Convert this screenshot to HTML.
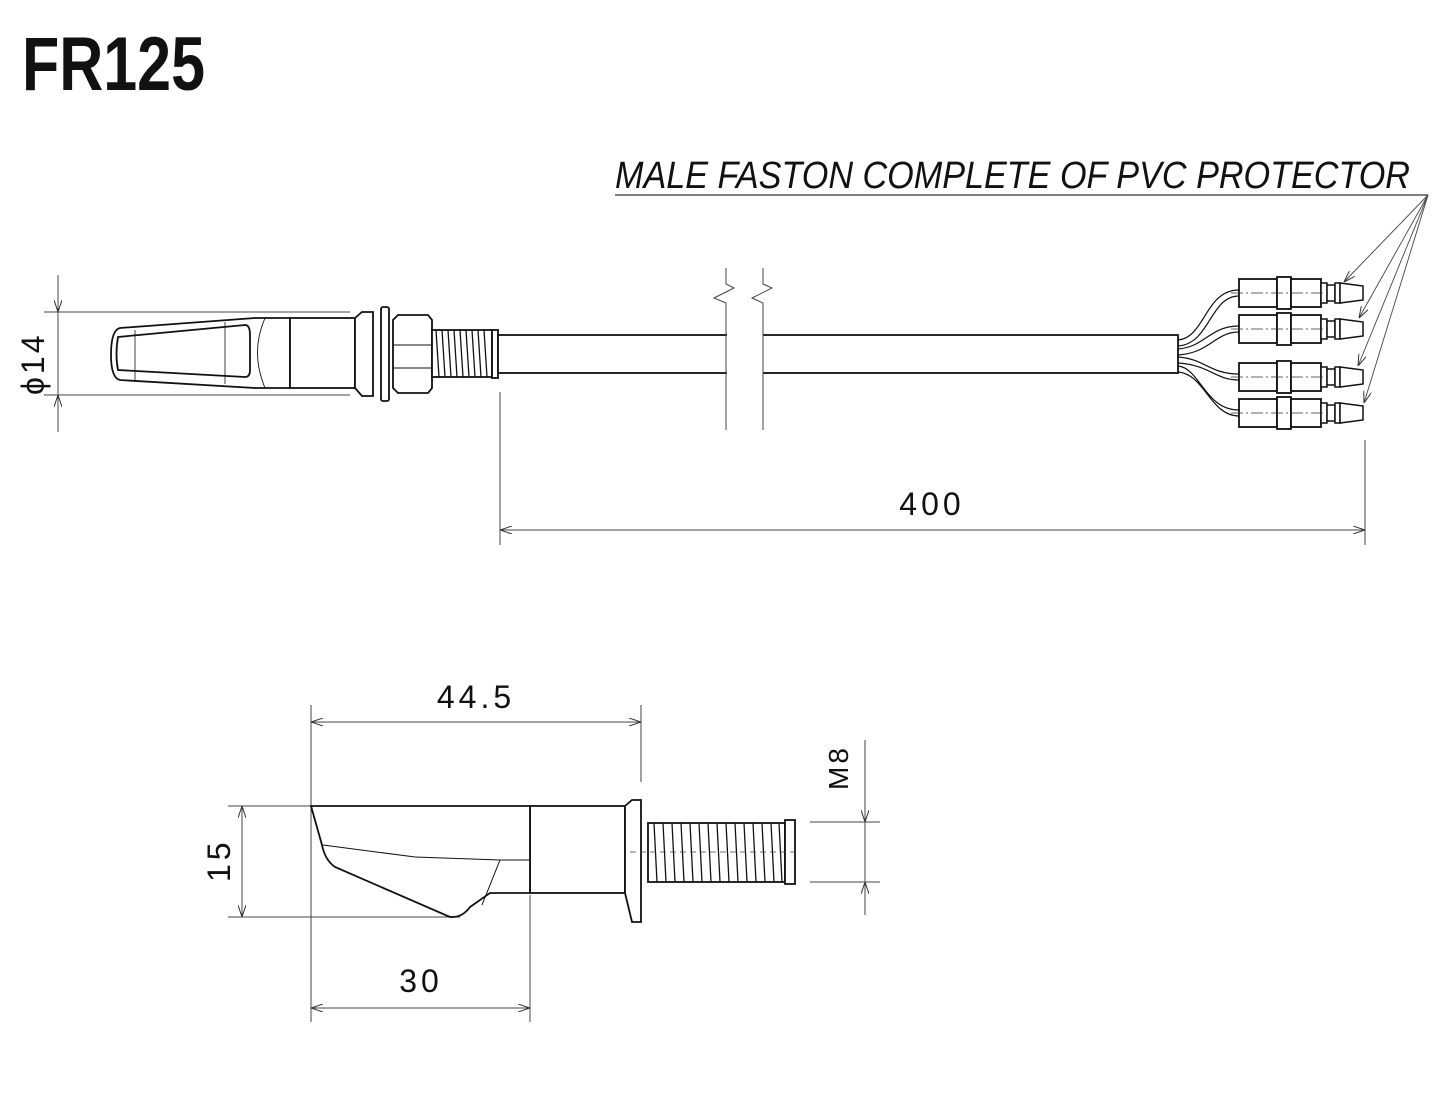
<!DOCTYPE html>
<html><head><meta charset="utf-8"><style>
html,body{margin:0;padding:0;background:#fff;width:1445px;height:1094px;overflow:hidden}
svg{display:block}
text{font-family:"Liberation Sans",sans-serif;fill:#111}
</style></head><body>
<svg width="1445" height="1094" viewBox="0 0 1445 1094" xmlns="http://www.w3.org/2000/svg">
<defs>
<marker id="ar" viewBox="0 0 12 8" refX="12" refY="4" markerWidth="12" markerHeight="8" orient="auto-start-reverse" markerUnits="userSpaceOnUse">
<path d="M0,0 L12,4 L0,8" fill="none" stroke="#333" stroke-width="1"/></marker>
<g id="fast">
<rect x="0" y="-14" width="38" height="28" fill="#fff" stroke="#111" stroke-width="1.8"/>
<rect x="38" y="-16" width="14" height="32" fill="#fff" stroke="#111" stroke-width="1.8"/>
<rect x="52" y="-14" width="30" height="28" fill="#fff" stroke="#111" stroke-width="1.8"/>
<rect x="82" y="-10" width="6" height="20" fill="#fff" stroke="#111" stroke-width="1.5"/>
<rect x="88" y="-8" width="8" height="16" fill="#fff" stroke="#111" stroke-width="1.5"/>
<rect x="96" y="-10" width="5" height="20" fill="#fff" stroke="#111" stroke-width="1.5"/>
<path d="M101,-10 L124,-7 L124,7 L101,10Z" fill="#fff" stroke="#111" stroke-width="1.5"/>
<line x1="-8" y1="0" x2="90" y2="0" stroke="#333" stroke-width="0.8" stroke-dasharray="12,3,2,3"/>
</g>
</defs>

<text x="22" y="90" font-size="76" font-weight="bold" textLength="183" lengthAdjust="spacingAndGlyphs" style="font-family:'Liberation Sans Narrow','Liberation Sans',sans-serif">FR125</text>

<text x="615" y="188" font-size="38" font-style="italic" textLength="795" lengthAdjust="spacingAndGlyphs" style="font-family:'Liberation Sans Narrow','Liberation Sans',sans-serif">MALE FASTON COMPLETE OF PVC PROTECTOR</text>
<line x1="615" y1="195" x2="1428" y2="195" stroke="#333" stroke-width="1.2"/>
<g stroke="#444" stroke-width="0.9" fill="none">
<line x1="1428" y1="195" x2="1344" y2="282" marker-end="url(#ar)"/>
<line x1="1428" y1="195" x2="1359" y2="318" marker-end="url(#ar)"/>
<line x1="1428" y1="195" x2="1358" y2="366" marker-end="url(#ar)"/>
<line x1="1428" y1="195" x2="1364" y2="403" marker-end="url(#ar)"/>
</g>

<!-- top view dims -->
<g stroke="#444" stroke-width="1" fill="none">
<line x1="58" y1="275" x2="58" y2="432"/>
<line x1="58" y1="278" x2="58" y2="312" marker-end="url(#ar)"/>
<line x1="58" y1="428" x2="58" y2="395" marker-end="url(#ar)"/>
<line x1="44" y1="312" x2="350" y2="312"/>
<line x1="44" y1="395" x2="350" y2="395"/>
<line x1="500" y1="392" x2="500" y2="545"/>
<line x1="1365" y1="440" x2="1365" y2="545"/>
<line x1="500" y1="530" x2="1365" y2="530" marker-start="url(#ar)" marker-end="url(#ar)"/>
</g>
<text x="0" y="0" font-size="32" letter-spacing="3" transform="translate(44,395) rotate(-90)">&#981;14</text>
<text x="932" y="515" font-size="32" letter-spacing="4" text-anchor="middle">400</text>

<!-- top lamp -->
<g stroke="#111" stroke-width="1.8" fill="#fff">
<path d="M120,328 L255,318 L290,318 L290,388 L255,388 L120,380 Q111,378 111,355 Q111,330 120,328Z"/>
<path d="M118,337 L245,325 Q250,325 250,335 L250,370 Q250,377 245,377 L118,370 Q115,355 118,337Z"/>
<line x1="135" y1="330" x2="135" y2="381" stroke-width="0.8"/>
<line x1="225" y1="322" x2="225" y2="384" stroke-width="0.8"/>
<path d="M265,318 Q250,352 265,388" fill="none" stroke-width="0.9"/>
<rect x="290" y="318" width="65" height="70"/>
<path d="M355,318 L362,312 L373,312 L373,396 L362,396 L355,388Z"/>
<rect x="381" y="307" width="8" height="94" rx="2"/>
<path d="M393,320 L398,315 L428,315 L432,320 L432,388 L428,393 L398,393 L393,388Z"/>
<line x1="393" y1="345" x2="432" y2="345" stroke-width="1"/>
<line x1="393" y1="368" x2="432" y2="368" stroke-width="1"/>
<rect x="432" y="330" width="60" height="47" fill="#fff"/>
<rect x="492" y="330" width="6" height="48"/>
<rect x="498" y="335" width="680" height="38"/>
</g>
<g stroke="#111" stroke-width="1.3">
<path d="M436,330 l3,47 M442,330 l3,47 M448,330 l3,47 M454,330 l3,47 M460,330 l3,47 M466,330 l3,47 M472,330 l3,47 M478,330 l3,47 M484,330 l3,47"/>
</g>
<!-- cable break -->
<rect x="727" y="268" width="36" height="165" fill="#fff"/>
<g stroke="#444" stroke-width="1" fill="none">
<path d="M726,430 L726,303 L714,298 L734,288 L726,284 L726,268"/>
<path d="M763,430 L763,303 L752,298 L772,288 L763,284 L763,268"/>
</g>

<!-- wires -->
<g stroke="#111" stroke-width="1.2" fill="none">
<path d="M1178,340 C1205,338 1205,290 1239,290 M1178,346 C1210,344 1210,296 1239,296"/>
<path d="M1178,349 C1205,347 1210,326 1239,326 M1178,355 C1210,353 1215,332 1239,332"/>
<path d="M1178,357 C1205,359 1210,374 1239,374 M1178,363 C1210,365 1215,380 1239,380"/>
<path d="M1178,366 C1200,368 1205,410 1239,410 M1178,372 C1205,374 1210,416 1239,416"/>
</g>
<use href="#fast" x="1239" y="293"/>
<use href="#fast" x="1239" y="329"/>
<use href="#fast" x="1239" y="377"/>
<use href="#fast" x="1239" y="413"/>

<!-- bottom dims -->
<g stroke="#444" stroke-width="1" fill="none">
<line x1="311" y1="705" x2="311" y2="1022"/>
<line x1="641" y1="705" x2="641" y2="782"/>
<line x1="530" y1="895" x2="530" y2="1022"/>
<line x1="311" y1="722" x2="641" y2="722" marker-start="url(#ar)" marker-end="url(#ar)"/>
<line x1="311" y1="1008" x2="530" y2="1008" marker-start="url(#ar)" marker-end="url(#ar)"/>
<line x1="228" y1="806" x2="311" y2="806"/>
<line x1="228" y1="917" x2="460" y2="917"/>
<line x1="242" y1="806" x2="242" y2="917" marker-start="url(#ar)" marker-end="url(#ar)"/>
<line x1="810" y1="822" x2="880" y2="822"/>
<line x1="810" y1="882" x2="880" y2="882"/>
<line x1="865" y1="740" x2="865" y2="822" marker-end="url(#ar)"/>
<line x1="865" y1="915" x2="865" y2="882" marker-end="url(#ar)"/>
<line x1="865" y1="822" x2="865" y2="882"/>
</g>
<text x="476" y="708" font-size="32" letter-spacing="4" text-anchor="middle">44.5</text>
<text x="421" y="992" font-size="32" letter-spacing="4" text-anchor="middle">30</text>
<text x="0" y="0" font-size="32" letter-spacing="4" transform="translate(230,882) rotate(-90)">15</text>
<text x="0" y="0" font-size="28" letter-spacing="3" fill="#333" transform="translate(848,790) rotate(-90)">M8</text>

<!-- side lamp -->
<g stroke="#111" stroke-width="1.8" fill="#fff">
<rect x="530" y="806" width="95" height="87"/>
<path d="M311,806 L530,806 L530,893 L490,893 L470,907 Q462,918 450,917 L335,867 Q325,860 322,845 Z"/>
<path d="M323,845 L415,857 L500,860 L530,860" fill="none" stroke-width="1"/>
<path d="M500,860 L482,905" fill="none" stroke-width="1"/>
<path d="M625,806 L632,800 L641,800 L641,922 L632,922 L625,893Z"/>
<rect x="648" y="823" width="137" height="59"/>
<rect x="785" y="820" width="10" height="64"/>
</g>
<g stroke="#111" stroke-width="1.3">
<path d="M654,823 l3,59 M663,823 l3,59 M672,823 l3,59 M681,823 l3,59 M690,823 l3,59 M699,823 l3,59 M708,823 l3,59 M717,823 l3,59 M726,823 l3,59 M735,823 l3,59 M744,823 l3,59 M753,823 l3,59 M762,823 l3,59 M771,823 l3,59 M779,823 l3,59"/>
</g>
<line x1="630" y1="852" x2="800" y2="852" stroke="#444" stroke-width="0.8" stroke-dasharray="6,4"/>
</svg>
</body></html>
